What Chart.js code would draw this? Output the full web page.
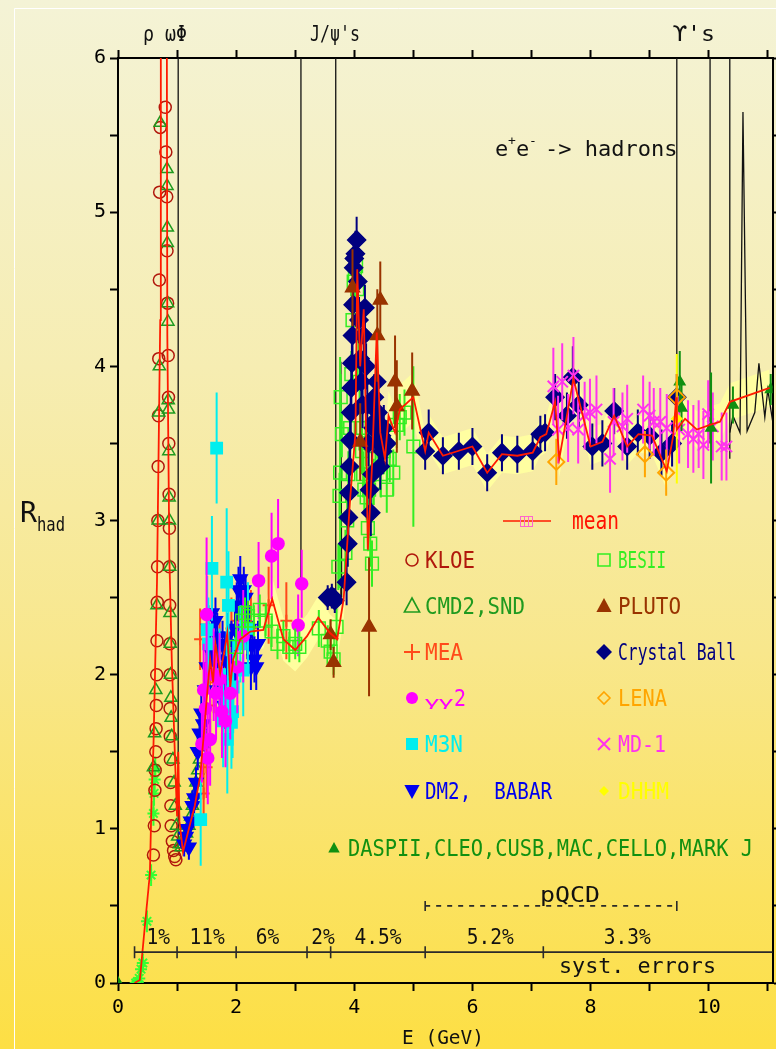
<!DOCTYPE html>
<html>
<head>
<meta charset="utf-8">
<script src="https://cdn.jsdelivr.net/npm/chart.js@4.4.1/dist/chart.umd.min.js"></script>
<style>
  html, body { margin: 0; padding: 0; background: #fff; overflow: hidden; }
  #wrap { width: 776px; height: 1049px; position: relative; overflow: hidden; }
  #c { position: absolute; left: 0; top: 0; }
</style>
</head>
<body>
<div id="wrap"><canvas id="c" width="783" height="1049"></canvas></div>
<script>
// ---------- axis ranges and tick labels ----------
const xRange = [0, 11.08];
const yRange = [0, 6];
const xTickLabels = ['0', '2', '4', '6', '8', '10'];
const yTickLabels = ['0', '1', '2', '3', '4', '5', '6'];

// ---------- measurements: [E (GeV), R, error] ----------
const greenStars = [[0.30,0.00,0.02],[0.33,0.01,0.02],[0.36,0.03,0.03],[0.39,0.09,0.05],[0.42,0.13,0.06],[0.49,0.40,0.07],[0.56,0.70,0.07],[0.60,1.10,0.08],[0.61,1.23,0.08],[0.62,1.32,0.08],[0.63,1.39,0.08]];

const kloe = [[0.60,0.83],[0.615,1.02],[0.625,1.25],[0.63,1.38],[0.64,1.50],[0.645,1.65],[0.65,1.80],[0.655,2.00],[0.66,2.22],[0.665,2.47],[0.67,2.70],[0.675,3.00],[0.68,3.35],[0.685,3.68],[0.69,4.05],[0.70,4.56],[0.705,5.13],[0.715,5.55],
  [0.80,5.68],[0.81,5.39],[0.825,5.10],[0.83,4.75],[0.84,4.41],[0.85,4.07],[0.855,3.80],[0.86,3.50],[0.865,3.17],[0.87,2.95],[0.872,2.70],[0.875,2.45],[0.878,2.20],[0.88,2.00],[0.882,1.78],[0.885,1.60],[0.887,1.45],[0.89,1.30],[0.895,1.15],[0.90,1.02],[0.92,0.92],[0.94,0.86],[0.96,0.82],[0.98,0.80]];

const cmd2snd = [[0.60,1.40],[0.62,1.62],[0.64,1.90],[0.66,2.45],[0.68,3.00],[0.69,3.70],[0.70,4.00],[0.715,5.58],[0.83,5.28],[0.83,5.17],[0.835,4.90],[0.835,4.80],[0.84,4.41],[0.845,4.29],[0.85,3.78],[0.855,3.72],[0.86,3.45],[0.865,3.15],[0.87,3.00],[0.875,2.70],[0.88,2.40],[0.885,2.20],[0.89,2.00],[0.895,1.85],[0.90,1.72],[0.91,1.60],[0.93,1.45],[0.95,1.30],[0.97,1.15],[0.99,1.02],[1.01,0.95],[1.04,0.90],[1.07,0.88],[1.10,0.90],[1.13,0.93],[1.16,0.97],[1.20,1.02],[1.23,1.08],[1.26,1.15],[1.29,1.22],[1.32,1.30],[1.35,1.38],[1.38,1.45],[1.41,1.50],[1.44,1.55],[1.47,1.60]];

const mea = [[1.39,2.23,0.2],[1.45,1.23,0.2],[1.50,1.40,0.2],[1.56,1.80,0.2],[1.62,1.95,0.2],[1.72,2.15,0.2],[1.82,2.05,0.2],[1.92,2.30,0.2],[2.02,2.35,0.2],[2.25,2.30,0.25],[2.55,2.45,0.25],[2.85,2.35,0.25]];

const gg2 = [[1.42,1.55,0.25],[1.45,1.90,0.3],[1.48,1.78,0.3],[1.50,2.39,0.5],[1.52,1.46,0.3],[1.56,1.58,0.3],[1.62,2.00,0.3],[1.66,1.88,0.3],[1.72,1.97,0.3],[1.76,1.76,0.3],[1.82,1.70,0.3],[1.90,1.88,0.3],[2.02,2.05,0.3],[2.12,2.25,0.3],[2.38,2.61,0.25],[2.60,2.77,0.28],[2.71,2.85,0.29],[3.05,2.32,0.2],[3.11,2.59,0.22]];

const m3n = [[1.40,1.06,0.3],[1.51,2.29,0.35],[1.53,2.20,0.3],[1.59,2.69,0.34],[1.67,3.47,0.36],[1.72,2.00,0.3],[1.78,1.70,0.3],[1.84,2.60,0.48],[1.85,1.58,0.35],[1.86,1.84,0.3],[1.87,2.45,0.35],[1.92,1.69,0.3],[1.94,1.76,0.3],[1.95,1.92,0.3],[2.07,2.20,0.25],[2.12,2.03,0.3],[2.20,2.30,0.3]];

const dm2babar = [[1.12,0.90,0.08],[1.15,0.95,0.08],[1.18,1.00,0.08],[1.20,0.88,0.08],[1.23,1.05,0.1],[1.26,1.15,0.1],[1.29,1.20,0.1],[1.32,1.30,0.1],[1.35,1.50,0.12],[1.38,1.62,0.12],[1.41,1.75,0.12],[1.44,1.68,0.12],[1.47,1.90,0.15],[1.50,2.05,0.15],[1.53,2.30,0.15],[1.56,2.15,0.15],[1.59,2.40,0.15],[1.62,2.10,0.15],[1.65,2.35,0.15],[1.68,2.25,0.15],[1.71,2.05,0.15],[1.74,1.90,0.15],[1.77,2.20,0.15],[1.80,1.80,0.15],[1.83,2.10,0.15],[1.86,2.25,0.15],[1.89,1.95,0.15],[1.92,2.20,0.15],[1.95,2.00,0.15],[1.98,2.30,0.15],[2.01,2.45,0.15],[2.04,2.55,0.15],[2.07,2.62,0.15],[2.10,2.40,0.15],[2.13,2.55,0.15],[2.16,2.50,0.15],[2.19,2.25,0.15],[2.22,2.30,0.15],[2.25,2.05,0.15],[2.28,2.20,0.15],[2.31,2.10,0.15],[2.34,2.05,0.15],[2.37,2.20,0.15]];

const besii = [[2.00,2.18,0.12],[2.10,2.35,0.1],[2.15,2.40,0.1],[2.20,2.38,0.1],[2.30,2.35,0.1],[2.40,2.42,0.1],[2.50,2.35,0.1],[2.60,2.28,0.1],[2.70,2.20,0.1],[2.80,2.25,0.1],[2.90,2.18,0.1],[3.00,2.20,0.1],[3.07,2.18,0.1],[3.40,2.30,0.12],[3.55,2.22,0.1],[3.60,2.15,0.1],[3.65,2.10,0.1],[3.70,2.31,0.12],[3.73,2.70,0.15],[3.75,3.16,0.15],[3.76,3.31,0.75],[3.77,3.80,0.15],[3.79,3.56,0.15],[3.85,2.79,0.15],[3.88,3.00,0.15],[3.90,3.30,0.15],[3.93,3.60,0.15],[3.95,3.95,0.15],[3.97,4.30,0.15],[3.99,4.55,0.15],[4.01,4.60,0.15],[4.03,4.65,0.15],[4.05,4.50,0.15],[4.07,4.20,0.15],[4.09,3.90,0.15],[4.11,3.60,0.15],[4.13,3.45,0.15],[4.15,3.30,0.15],[4.17,3.20,0.15],[4.19,3.50,0.15],[4.21,3.15,0.15],[4.23,2.95,0.15],[4.25,3.20,0.15],[4.27,2.85,0.15],[4.30,2.72,0.15],[4.33,3.25,0.15],[4.36,3.40,0.15],[4.40,3.55,0.15],[4.45,3.30,0.15],[4.50,3.45,0.15],[4.55,3.20,0.15],[4.60,3.40,0.15],[4.66,3.31,0.15],[4.72,3.62,0.15],[4.77,3.67,0.15],[4.85,3.70,0.15],[5.00,3.48,0.52]];

const pluto = [[3.60,2.26,0.1],[3.65,2.08,0.1],[3.97,4.51,0.25],[4.10,3.51,0.25],[4.25,2.31,0.45],[4.39,4.20,0.3],[4.44,4.43,0.25],[4.69,3.90,0.3],[4.72,3.74,0.3],[4.98,3.84,0.25]];

const crystalBall = [[3.55,2.50,0.08],[3.62,2.51,0.08],[3.67,2.48,0.08],
  [3.87,2.60,0.15],[3.89,2.85,0.15],[3.90,3.02,0.15],[3.91,3.18,0.15],[3.92,3.35,0.15],[3.93,3.52,0.15],[3.94,3.70,0.15],[3.95,3.86,0.15],[3.96,4.02,0.15],[3.97,4.20,0.15],[3.98,4.40,0.15],[3.99,4.64,0.15],[4.00,4.70,0.15],[4.02,4.73,0.15],[4.04,4.82,0.15],[4.06,4.55,0.15],[4.08,4.30,0.15],[4.10,4.05,0.15],[4.12,3.90,0.15],[4.14,3.75,0.15],[4.16,4.20,0.15],[4.18,4.38,0.15],[4.20,4.00,0.15],[4.22,3.75,0.15],[4.24,3.50,0.15],[4.26,3.20,0.15],[4.28,3.05,0.15],[4.30,3.30,0.15],[4.32,3.60,0.15],[4.34,3.80,0.15],[4.36,3.65,0.15],[4.38,3.90,0.15],[4.40,3.70,0.15],[4.42,3.50,0.15],[4.44,3.35,0.15],[4.46,3.55,0.15],[4.48,3.45,0.15],[4.50,3.60,0.15],[4.55,3.50,0.15],
  [5.20,3.45,0.12],[5.26,3.57,0.15],[5.50,3.42,0.12],[5.77,3.45,0.12],[6.00,3.48,0.12],[6.25,3.31,0.12],[6.50,3.44,0.12],[6.76,3.43,0.12],[7.02,3.45,0.12],[7.15,3.56,0.12],[7.23,3.57,0.12],[7.40,3.80,0.15],[7.60,3.68,0.15],[7.70,3.93,0.2],[7.80,3.75,0.15],[8.03,3.48,0.15],[8.20,3.50,0.15],[8.40,3.71,0.15],[8.62,3.48,0.15],[8.80,3.57,0.15],[9.00,3.55,0.15],[9.20,3.44,0.15],[9.38,3.50,0.15],[9.46,3.80,0.15]];

const lena = [[7.42,3.38,0.15],[8.92,3.43,0.15],[9.28,3.31,0.15],[9.46,3.80,0.15]];

const md1 = [[7.37,3.87,0.25],[7.45,3.59,0.22],[7.52,3.90,0.25],[7.62,3.60,0.22],[7.71,3.94,0.25],[7.79,3.59,0.22],[7.90,3.68,0.22],[7.99,3.70,0.22],[8.10,3.72,0.22],[8.33,3.40,0.22],[8.39,3.64,0.22],[8.54,3.61,0.22],[8.62,3.66,0.22],[8.89,3.72,0.22],[9.00,3.68,0.22],[9.07,3.64,0.22],[9.18,3.64,0.22],[9.29,3.60,0.22],[9.50,3.59,0.22],[9.65,3.56,0.22],[9.74,3.53,0.22],[9.83,3.56,0.22],[9.91,3.49,0.22],[9.99,3.69,0.22],[10.07,3.61,0.22],[10.22,3.48,0.22],[10.30,3.48,0.22]];

const dhhm = [[9.46,3.66,0.42]];

const daspEtc = [[0.00,0.00,0],[9.51,3.90,0.2],[9.54,3.73,0.15],[10.04,3.60,0.36],[10.41,3.75,0.12],[11.05,3.85,0.1]];

// averaged R with its uncertainty: [E, R, error]
const meanCurve = [[0.28,0.00,0.01],[0.37,0.02,0.01],[0.45,0.35,0.03],[0.54,0.71,0.04],[0.57,1.23,0.05],[0.60,1.53,0.05],[0.66,2.60,0.08],[0.715,4.30,0.1],[0.725,6.50,0.1],[0.78,8.50,0.1],[0.825,6.50,0.1],[0.835,4.20,0.1],[0.87,2.75,0.08],[0.91,2.10,0.06],[0.97,1.40,0.05],[1.00,1.08,0.05],[1.02,1.50,0.05],[1.04,1.05,0.05],[1.10,0.85,0.05],[1.20,1.00,0.06],[1.30,1.15,0.08],[1.39,1.34,0.1],[1.45,1.60,0.12],[1.51,1.88,0.12],[1.56,2.10,0.15],[1.61,1.95,0.15],[1.65,2.20,0.15],[1.73,2.01,0.15],[1.80,2.15,0.15],[1.85,2.27,0.15],[1.90,1.92,0.15],[1.95,2.10,0.15],[2.07,2.23,0.12],[2.24,2.28,0.12],[2.46,2.29,0.12],[2.61,2.49,0.14],[2.80,2.23,0.14],[3.00,2.16,0.14],[3.20,2.25,0.14],[3.39,2.37,0.14],[3.59,2.27,0.12],[3.71,2.23,0.12],[3.82,2.49,0.14],[3.93,3.14,0.16],[4.02,3.57,0.16],[4.05,4.63,0.16],[4.10,4.00,0.16],[4.16,4.37,0.16],[4.20,3.57,0.16],[4.23,2.81,0.16],[4.30,3.35,0.16],[4.38,4.22,0.16],[4.44,3.57,0.16],[4.52,3.40,0.16],[4.58,3.68,0.16],[4.69,3.57,0.16],[4.77,3.72,0.16],[5.00,3.80,0.16],[5.20,3.45,0.12],[5.26,3.57,0.12],[5.50,3.42,0.12],[6.00,3.48,0.12],[6.25,3.31,0.12],[6.50,3.43,0.12],[6.76,3.42,0.12],[7.02,3.44,0.12],[7.15,3.54,0.12],[7.25,3.56,0.12],[7.40,3.77,0.12],[7.47,3.40,0.12],[7.71,3.92,0.12],[8.00,3.48,0.12],[8.20,3.51,0.12],[8.40,3.68,0.12],[8.62,3.48,0.12],[8.81,3.56,0.12],[9.04,3.55,0.12],[9.29,3.32,0.12],[9.40,3.55,0.12],[9.45,3.80,0.12],[9.46,3.59,0.12],[9.60,3.66,0.12],[9.80,3.59,0.12],[10.02,3.62,0.12],[10.19,3.64,0.12],[10.36,3.77,0.12],[11.03,3.86,0.12]];

// narrow resonances (phi, J/psi family, Upsilon family)
const resonanceCurves = [
  [[1.019,0.88],[1.019,7]],
  [[3.097,2.56],[3.097,7]],
  [[3.686,2.50],[3.686,7]],
  [[3.760,2.50],[3.773,4.03],[3.786,2.50]],
  [[9.460,3.55],[9.460,7]],
  [[10.023,3.50],[10.023,7]],
  [[10.357,3.40],[10.357,7]],
  [[10.357,3.57],[10.41,3.68],[10.53,3.57],[10.58,5.65],[10.65,3.58],[10.78,3.70],[10.85,4.02],[10.95,3.67],[11.00,3.85],[11.06,3.70],[11.08,3.65]]
];

// systematic error bands and pQCD region
const systEdges = [0.28, 1.0, 2.0, 3.2, 3.6, 5.2, 7.2, 11.08];
const systLabels = ['1%', '11%', '6%', '2%', '4.5%', '5.2%', '3.3%'];
const systLabelE = [0.68, 1.51, 2.53, 3.47, 4.40, 6.30, 8.62];
const systLevel = 0.2;
const pqcdRange = [5.2, 9.46];
const pqcdLevel = 0.5;

// ---------- rendering ----------
const FONT = '"DejaVu Sans Mono", "Liberation Mono", monospace';
const COL = {
  kloe: '#b0180c', cmd: '#1f9a1f', mea: '#ff4a1a', gg2: '#ff00ff', m3n: '#00eeee',
  dm2: '#0000ee', besii: '#33ee22', pluto: '#993300', cball: '#00007f', lena: '#ffa500',
  md1: '#ff33ee', dhhm: '#ffff00', dasp: '#119011', star: '#33ff33', mean: '#ff1a00'
};

const toXY = arr => arr.map(p => ({ x: p[0], y: p[1] }));

function markerSet(label, arr, style, color, radius, opts) {
  opts = opts || {};
  return {
    label,
    data: toXY(arr),
    errs: arr.map(p => p[2] || 0),
    showLine: false,
    pointStyle: style,
    pointRadius: radius,
    pointHoverRadius: radius,
    pointBorderColor: color,
    pointBackgroundColor: opts.open ? 'rgba(0,0,0,0)' : color,
    pointBorderWidth: opts.bw || 1.5,
    pointRotation: opts.rot || 0,
    borderColor: color,
    errColor: opts.errColor || color,
    order: opts.order || 10
  };
}

const datasets = [];

// mean red line on top
datasets.push({
  label: 'mean', data: toXY(meanCurve), borderColor: COL.mean, borderWidth: 1.8,
  pointRadius: 0, tension: 0, fill: false, clip: 0, order: 0
});

datasets.push(markerSet('LENA', lena, 'rectRot', COL.lena, 8, { open: true, bw: 2, order: 1 }));
datasets.push(markerSet('DHHM', dhhm, 'rectRot', COL.dhhm, 5, { order: 1 }));
datasets.push(markerSet('DASPII,CLEO,CUSB,MAC,CELLO,MARK J', daspEtc, 'triangle', COL.dasp, 6, { order: 2 }));
datasets.push(markerSet('MD-1', md1, 'crossRot', COL.md1, 8, { bw: 2, order: 3 }));
datasets.push(markerSet('PLUTO', pluto, 'triangle', COL.pluto, 8, { order: 3 }));
datasets.push(markerSet('Crystal Ball', crystalBall, 'rectRot', COL.cball, 9, { order: 4 }));
datasets.push(markerSet('BESII', besii, 'rect', COL.besii, 9, { open: true, bw: 1.5, order: 5 }));
datasets.push(markerSet('γγ2', gg2, 'circle', COL.gg2, 6, { order: 6 }));
datasets.push(markerSet('M3N', m3n, 'rect', COL.m3n, 8, { order: 6 }));
datasets.push(markerSet('DM2, BABAR', dm2babar, 'triangle', COL.dm2, 8, { rot: 180, order: 7 }));
datasets.push(markerSet('MEA', mea, 'cross', COL.mea, 6, { bw: 2, order: 7 }));
datasets.push(markerSet('CMD2,SND', cmd2snd, 'triangle', COL.cmd, 7, { open: true, order: 8 }));
datasets.push(markerSet('KLOE', kloe, 'circle', COL.kloe, 6, { open: true, order: 9 }));
datasets.push(markerSet('', greenStars, 'star', COL.star, 6, { bw: 2, order: 9 }));

// resonance shapes in black
resonanceCurves.forEach(c => datasets.push({
  label: '', data: toXY(c), borderColor: '#111', borderWidth: 1.3, pointRadius: 0,
  tension: 0, fill: false, clip: 0, order: 40
}));

// uncertainty band of the mean
datasets.push({
  label: '', data: meanCurve.map(p => ({ x: p[0], y: p[1] + p[2] })), borderWidth: 0,
  pointRadius: 0, tension: 0, fill: false, clip: 0, order: 50
});
datasets.push({
  label: '', data: meanCurve.map(p => ({ x: p[0], y: p[1] - p[2] })), borderWidth: 0,
  pointRadius: 0, tension: 0, fill: '-1', backgroundColor: 'rgba(255,255,160,0.95)', clip: 0, order: 50
});

// page background
const backdrop = {
  id: 'backdrop',
  beforeDraw(chart) {
    const { ctx, width, height } = chart;
    const g = ctx.createLinearGradient(0, 0, 0, height);
    g.addColorStop(0, '#f4f3d6');
    g.addColorStop(0.35, '#f6edb2');
    g.addColorStop(0.62, '#f8e78c');
    g.addColorStop(0.85, '#fbe260');
    g.addColorStop(1, '#fddf44');
    ctx.save();
    ctx.fillStyle = g;
    ctx.fillRect(0, 0, width, height);
    ctx.strokeStyle = '#ffffff';
    ctx.lineWidth = 1;
    ctx.beginPath();
    ctx.moveTo(14.5, height); ctx.lineTo(14.5, 8.5); ctx.lineTo(width, 8.5);
    ctx.stroke();
    ctx.restore();
  }
};

// vertical error bars drawn under each dataset's markers
const errorBars = {
  id: 'errorBars',
  beforeDatasetDraw(chart, args) {
    const ds = chart.data.datasets[args.index];
    if (!ds.errs) return;
    const { ctx, chartArea: a } = chart;
    const xs = chart.scales.x, ys = chart.scales.y;
    ctx.save();
    ctx.beginPath(); ctx.rect(a.left, a.top, a.right - a.left, a.bottom - a.top); ctx.clip();
    ctx.strokeStyle = ds.errColor;
    ctx.lineWidth = 2;
    ds.data.forEach((p, i) => {
      const e = ds.errs[i];
      if (!e) return;
      const px = xs.getPixelForValue(p.x);
      ctx.beginPath();
      ctx.moveTo(px, ys.getPixelForValue(p.y - e));
      ctx.lineTo(px, ys.getPixelForValue(p.y + e));
      ctx.stroke();
    });
    ctx.restore();
  }
};

function fitText(ctx, str, x, y, w, size, color, font) {
  ctx.save();
  ctx.font = size + 'px ' + (font || FONT);
  const m = ctx.measureText(str).width;
  const k = w ? w / m : 1;
  ctx.translate(x, y);
  ctx.scale(k, 1);
  ctx.fillStyle = color;
  ctx.textBaseline = 'alphabetic';
  ctx.textAlign = 'left';
  ctx.fillText(str, 0, 0);
  ctx.restore();
}

function glyph(ctx, style, x, y, r, color, open, rot) {
  ctx.save();
  ctx.translate(x, y);
  if (rot) ctx.rotate(rot * Math.PI / 180);
  ctx.strokeStyle = color; ctx.fillStyle = color; ctx.lineWidth = 1.6;
  ctx.beginPath();
  if (style === 'circle') ctx.arc(0, 0, r, 0, Math.PI * 2);
  else if (style === 'triangle') { ctx.moveTo(0, -r); ctx.lineTo(r * 0.95, r * 0.75); ctx.lineTo(-r * 0.95, r * 0.75); ctx.closePath(); }
  else if (style === 'rect') ctx.rect(-r, -r, 2 * r, 2 * r);
  else if (style === 'diamond') { ctx.moveTo(0, -r); ctx.lineTo(r, 0); ctx.lineTo(0, r); ctx.lineTo(-r, 0); ctx.closePath(); }
  else if (style === 'cross') { ctx.moveTo(-r, 0); ctx.lineTo(r, 0); ctx.moveTo(0, -r); ctx.lineTo(0, r); open = true; ctx.lineWidth = 2; }
  else if (style === 'x') { ctx.moveTo(-r, -r); ctx.lineTo(r, r); ctx.moveTo(r, -r); ctx.lineTo(-r, r); open = true; ctx.lineWidth = 2; }
  if (open) ctx.stroke(); else ctx.fill();
  ctx.restore();
}

const legendRows = [
  { t: 'KLOE', c: COL.kloe, s: 'circle', r: 6, open: true, w: 50 },
  { t: 'CMD2,SND', c: COL.cmd, s: 'triangle', r: 8, open: true, w: 100 },
  { t: 'MEA', c: COL.mea, s: 'cross', r: 8, w: 38 },
  { t: 'γγ2', c: COL.gg2, s: 'circle', r: 6, w: 39 },
  { t: 'M3N', c: COL.m3n, s: 'rect', r: 6, w: 38 },
  { t: 'DM2,  BABAR', c: COL.dm2, s: 'triangle', r: 8, rot: 180, w: 127 }
];
const legendRowsRight = [
  { t: 'BESII', c: COL.besii, s: 'rect', r: 6, open: true, w: 48 },
  { t: 'PLUTO', c: COL.pluto, s: 'triangle', r: 8, w: 63 },
  { t: 'Crystal Ball', c: COL.cball, s: 'diamond', r: 8, w: 118 },
  { t: 'LENA', c: COL.lena, s: 'diamond', r: 6, open: true, w: 49 },
  { t: 'MD-1', c: COL.md1, s: 'x', r: 6, w: 48 },
  { t: 'DHHM', c: COL.dhhm, s: 'diamond', r: 5, w: 51 }
];
const rowBase = [568, 614, 660, 706, 752, 799];

const annotations = {
  id: 'annotations',
  afterDraw(chart) {
    const { ctx } = chart;
    const xs = chart.scales.x, ys = chart.scales.y;
    const px = v => xs.getPixelForValue(v), py = v => ys.getPixelForValue(v);

    // systematic errors bar
    const yS = py(systLevel);
    ctx.save();
    ctx.strokeStyle = '#2a2a2a'; ctx.lineWidth = 1.6;
    ctx.beginPath();
    ctx.moveTo(px(systEdges[0]), yS); ctx.lineTo(px(systEdges[systEdges.length - 1]), yS);
    systEdges.slice(0, -1).forEach(e => { ctx.moveTo(px(e), yS - 6); ctx.lineTo(px(e), yS + 6); });
    ctx.stroke();
    systLabels.forEach((t, i) => {
      ctx.font = '21px ' + FONT;
      const w = ctx.measureText(t).width * 0.93;
      fitText(ctx, t, px(systLabelE[i]) - w / 2, yS - 8, w, 21, '#111');
    });
    fitText(ctx, 'syst. errors', 559, yS + 21, 157, 22, '#111');

    // pQCD range
    const yQ = py(pqcdLevel);
    ctx.setLineDash([5, 6]);
    ctx.beginPath(); ctx.moveTo(px(pqcdRange[0]), yQ); ctx.lineTo(px(pqcdRange[1]), yQ); ctx.stroke();
    ctx.setLineDash([]);
    ctx.beginPath();
    pqcdRange.forEach(e => { ctx.moveTo(px(e), yQ - 5); ctx.lineTo(px(e), yQ + 5); });
    ctx.stroke();
    fitText(ctx, 'pQCD', 540, yQ - 4, 60, 21, '#111');
    ctx.restore();

    // resonance names above the frame
    fitText(ctx, 'ρ ωΦ', 143, 41, 44, 22, '#111');
    fitText(ctx, 'J/ψ\'s', 310, 41, 50, 22, '#111');
    fitText(ctx, 'ϒ\'s', 673, 41, 42, 22, '#111');

    // axis titles
    fitText(ctx, 'R', 20, 522, 17, 29, '#111');
    fitText(ctx, 'had', 37, 531, 28, 19, '#111');
    fitText(ctx, 'E (GeV)', 402, 1044, 82, 20, '#111');

    // process label
    fitText(ctx, 'e', 495, 156, null, 22, '#111');
    fitText(ctx, '+', 508, 145, null, 13, '#111');
    fitText(ctx, 'e', 516, 156, null, 22, '#111');
    fitText(ctx, '-', 529, 145, null, 13, '#111');
    fitText(ctx, '-> hadrons', 545, 156, null, 22, '#111');

    // legend: mean
    ctx.save();
    ctx.strokeStyle = COL.mean; ctx.lineWidth = 1.6;
    ctx.beginPath(); ctx.moveTo(503, 521); ctx.lineTo(551, 521); ctx.stroke();
    ctx.strokeStyle = '#ff66cc'; ctx.lineWidth = 1;
    ctx.strokeRect(520.5, 516.5, 12, 10);
    ctx.beginPath();
    [524.5, 528.5].forEach(x => { ctx.moveTo(x, 516.5); ctx.lineTo(x, 526.5); });
    ctx.stroke();
    ctx.restore();
    fitText(ctx, 'mean', 572, 529, 47, 24, '#ff1100');

    legendRows.forEach((r, i) => {
      glyph(ctx, r.s, 412, rowBase[i] - 8, r.r, r.c, r.open, r.rot);
      if (r.t === 'γγ2') {
        fitText(ctx, 'γγ', 425, rowBase[i], 28, 27, r.c, 'italic "DejaVu Serif", serif');
        fitText(ctx, '2', 454, rowBase[i], 12, 23, r.c);
      } else {
        fitText(ctx, r.t, 425, rowBase[i], r.w, 23, r.c);
      }
    });
    legendRowsRight.forEach((r, i) => {
      glyph(ctx, r.s, 604, rowBase[i] - 8, r.r, r.c, r.open, r.rot);
      fitText(ctx, r.t, 618, rowBase[i], r.w, 23, r.c);
    });
    glyph(ctx, 'triangle', 334, 848, 6, COL.dasp, false, 0);
    fitText(ctx, 'DASPII,CLEO,CUSB,MAC,CELLO,MARK J', 348, 856, 405, 23, COL.dasp);
  }
};

const axisCommon = {
  type: 'linear',
  border: { display: true, color: '#000', width: 2 },
  grid: { drawOnChartArea: false, drawTicks: true, tickLength: 8, tickWidth: 2, tickColor: '#000' }
};

// fixed frame: scale boxes get exact sizes and no extra label padding
const fixH = h => s => { s.height = h; s.paddingLeft = 0; s.paddingRight = 0; };
const fixW = w => s => { s.width = w; s.paddingTop = 0; s.paddingBottom = 0; };

new Chart(document.getElementById('c'), {
  type: 'line',
  data: { datasets },
  options: {
    responsive: false,
    devicePixelRatio: 1,
    animation: false,
    events: [],
    layout: { padding: 0 },
    plugins: { legend: { display: false }, tooltip: { enabled: false } },
    scales: {
      x: Object.assign({}, axisCommon, {
        position: 'bottom', min: xRange[0], max: xRange[1],
        afterFit: fixH(66),
        ticks: {
          stepSize: 1, includeBounds: false, autoSkip: false, maxRotation: 0, padding: 5,
          color: '#000', font: { family: FONT, size: 20 },
          callback: v => (xTickLabels.indexOf(String(v)) >= 0 ? String(v) : '')
        }
      }),
      xTop: Object.assign({}, axisCommon, {
        position: 'top', min: xRange[0], max: xRange[1],
        afterFit: fixH(58),
        ticks: { stepSize: 1, includeBounds: false, autoSkip: false, maxRotation: 0, callback: () => '' }
      }),
      y: Object.assign({}, axisCommon, {
        position: 'left', min: yRange[0], max: yRange[1],
        afterFit: fixW(118),
        ticks: {
          stepSize: 0.5, includeBounds: false, autoSkip: false, padding: 4,
          color: '#000', font: { family: FONT, size: 20 },
          callback: v => (Number.isInteger(v) ? yTickLabels[v] : '')
        }
      }),
      yRight: Object.assign({}, axisCommon, {
        position: 'right', min: yRange[0], max: yRange[1],
        afterFit: fixW(3),
        ticks: { stepSize: 0.5, includeBounds: false, autoSkip: false, callback: () => '' }
      })
    }
  },
  plugins: [backdrop, errorBars, annotations]
});
</script>
</body>
</html>
